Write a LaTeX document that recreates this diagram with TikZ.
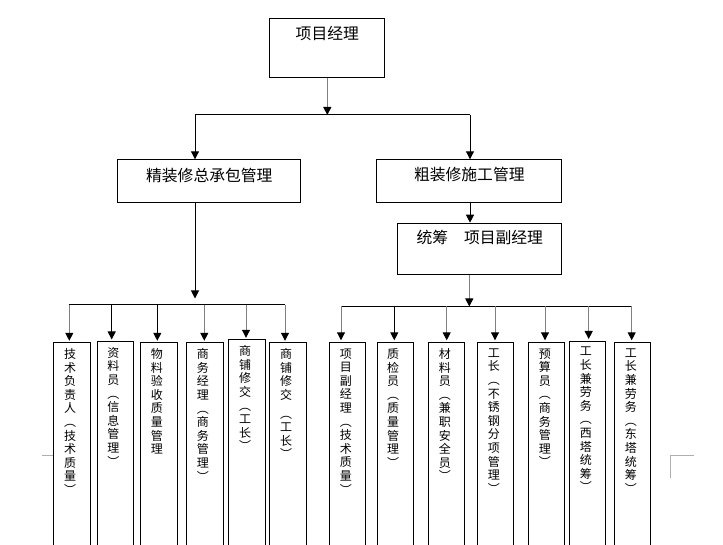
\documentclass[tikz,border=0pt]{standalone}
\usepackage{fontspec}
\newfontfamily\cjk{Noto Sans CJK SC}
\usetikzlibrary{arrows.meta}
\begin{document}
\begin{tikzpicture}[x=1pt,y=-1pt,
  box/.style={draw=black, line width=1pt, rectangle, inner sep=0pt, anchor=north west},
  htext/.style={font=\cjk\fontsize{15.8}{18}\selectfont, inner sep=0pt},
  vtext/.style={font=\cjk\fontsize{12}{13.6}\selectfont, align=center, inner sep=0pt, anchor=north, xshift=-2pt, yshift=-6pt},
  vbox/.style={box, minimum width=36.5pt, minimum height=215pt},
  arr/.style={line width=1pt, -{Triangle[length=8pt,width=8pt,color=black,fill=black]}},
  garr/.style={arr, draw={rgb,255:red,128;green,128;blue,128}},
  conn/.style={line width=1pt, draw=black},
  cropmark/.style={line width=1pt, draw={rgb,255:red,175;green,175;blue,175}}
]
\useasboundingbox (0,0) rectangle (723,545);
\clip (0,0) rectangle (723,545);

% top level boxes
\node[box, minimum width=115pt, minimum height=59pt,
      label={[htext,anchor=center,yshift=-15pt]north:{项目经理}}] (pm) at (269.3,18.3) {};
\node[box, minimum width=183pt, minimum height=43pt,
      label={[htext,anchor=center,yshift=-15.7pt]north:{精装修总承包管理}}] (jz) at (117.3,159.3) {};
\node[box, minimum width=185pt, minimum height=43pt,
      label={[htext,anchor=center,yshift=-15.7pt]north:{粗装修施工管理}}] (cz) at (376.3,159.3) {};
\node[box, minimum width=164pt, minimum height=51.6pt,
      label={[htext,anchor=center,yshift=-14.3pt]north:{统筹　项目副经理}}] (tc) at (397.3,222.7) {};

% left group boxes
\node[vbox] (l1) at (53.3,342.3)  {};
\node[vbox] (l2) at (96.7,341)    {};
\node[vbox] (l3) at (140,342.3)   {};
\node[vbox] (l4) at (186,342.3)   {};
\node[vbox] (l5) at (228.3,339.3) {};
\node[vbox] (l6) at (269.3,342.3) {};

\node[vtext] (l1t) at (l1.north) {技\\术\\负\\责\\人\\︵\\技\\术\\质\\量\\︶};
\node[vtext] (l2t) at (l2.north) {资\\料\\员\\︵\\信\\息\\管\\理\\︶};
\node[vtext] (l3t) at (l3.north) {物\\料\\验\\收\\质\\量\\管\\理};
\node[vtext] (l4t) at (l4.north) {商\\务\\经\\理\\︵\\商\\务\\管\\理\\︶};
\node[vtext] (l5t) at (l5.north) {商\\铺\\修\\交\\︵\\工\\长\\︶};
\node[vtext] (l6t) at (l6.north) {商\\铺\\修\\交\\[5pt]︵\\工\\长\\︶};

% right group boxes
\node[vbox, minimum width=36pt] (r1) at (329.3,342.3) {};
\node[vbox, minimum width=36pt] (r2) at (376.7,342.3) {};
\node[vbox, minimum width=36pt] (r3) at (428.3,342.3) {};
\node[vbox, minimum width=36pt] (r4) at (477.3,342.3) {};
\node[vbox, minimum width=36pt] (r5) at (528.3,342.3) {};
\node[vbox, minimum width=36pt] (r6) at (569.3,341)   {};
\node[vbox, minimum width=36pt] (r7) at (614.3,342.3) {};

\node[vtext] (r1t) at (r1.north) {项\\目\\副\\经\\理\\︵\\技\\术\\质\\量\\︶};
\node[vtext] (r2t) at (r2.north) {质\\检\\员\\︵\\质\\量\\管\\理\\︶};
\node[vtext] (r3t) at (r3.north) {材\\料\\员\\︵\\兼\\职\\安\\全\\员\\︶};
\node[vtext] (r4t) at (r4.north) {工\\长\\︵\\不\\锈\\钢\\分\\项\\管\\理\\︶};
\node[vtext] (r5t) at (r5.north) {预\\算\\员\\︵\\商\\务\\管\\理\\︶};
\node[vtext] (r6t) at (r6.north) {工\\长\\兼\\劳\\务\\︵\\西\\塔\\统\\筹\\︶};
\node[vtext] (r7t) at (r7.north) {工\\长\\兼\\劳\\务\\︵\\东\\塔\\统\\筹\\︶};

% level 1 connectors
\coordinate (y1) at (0,115);
\coordinate (b1l) at (195,115);
\coordinate (b1r) at (470,115);
\draw[garr] (pm.south) -- (pm.south |- y1);
\draw[conn] (b1l) -- (b1r);
\draw[arr] (b1l) -- (b1l |- jz.north);
\draw[arr] (b1r) -- (b1r |- cz.north);
\draw[arr] (cz.south -| b1r) -- (tc.north -| b1r);

% left group connectors
\coordinate (lj) at (195,298.5);
\draw[arr] (jz.south -| b1l) -- (lj);
\coordinate (t1) at (69.3,305);
\coordinate (t2) at (111.7,305);
\coordinate (t3) at (157.3,305);
\coordinate (t4) at (204.3,305);
\coordinate (t5) at (246,305);
\coordinate (t6) at (285,305);
\draw[conn] (t1) -- (t6);
\draw[garr, shorten >=1.5pt] (t1) -- (t1 |- l1.north);
\draw[arr, shorten >=1.5pt] (t2) -- (t2 |- l2.north);
\draw[arr, shorten >=1.5pt] (t3) -- (t3 |- l3.north);
\draw[garr, shorten >=1.5pt] (t4) -- (t4 |- l4.north);
\draw[garr, shorten >=1.5pt] (t5) -- (t5 |- l5.north);
\draw[garr, shorten >=1.5pt] (t6) -- (t6 |- l6.north);

% right group connectors
\coordinate (rj) at (469.3,306.5);
\draw[garr] (tc.south -| rj) -- (rj);
\coordinate (s1) at (341,306.5);
\coordinate (s2) at (394.3,306.5);
\coordinate (s3) at (446.7,306.5);
\coordinate (s4) at (495,306.5);
\coordinate (s5) at (545,306.5);
\coordinate (s6) at (588.7,306.5);
\coordinate (s7) at (631.7,306.5);
\draw[conn] (s1) -- (s7);
\draw[garr, shorten >=2pt] (s1) -- (s1 |- r1.north);
\draw[arr, shorten >=2pt] (s2) -- (s2 |- r2.north);
\draw[garr, shorten >=2pt] (s3) -- (s3 |- r3.north);
\draw[garr, shorten >=2pt] (s4) -- (s4 |- r4.north);
\draw[garr, shorten >=2pt] (s5) -- (s5 |- r5.north);
\draw[garr, shorten >=2pt] (s6) -- (s6 |- r6.north);
\draw[garr, shorten >=2pt] (s7) -- (s7 |- r7.north);

% page corner marks
\coordinate (ma) at (42,455);
\draw[cropmark] (ma) -- (l1.west |- ma);
\coordinate (mb) at (670,455);
\coordinate (mc) at (694,455);
\coordinate (md) at (670,478);
\draw[cropmark] (mc) -- (mb) -- (md);
\end{tikzpicture}
\end{document}
